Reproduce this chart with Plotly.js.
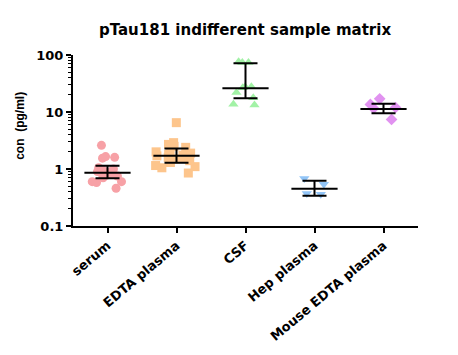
<!DOCTYPE html>
<html>
<head>
<meta charset="utf-8">
<script src="https://cdn.plot.ly/plotly-3.0.1.min.js"></script>
<style>html,body{margin:0;padding:0;background:#fff;}#chart{width:458px;height:355px;}</style>
</head>
<body>
<div id="chart"></div>
<script>
const categories = ["serum", "EDTA plasma", "CSF", "Hep plasma", "Mouse EDTA plasma"];
const serumVals = [2.6, 1.6, 1.55, 1.65, 1.05, 1.0, 0.95, 0.9, 0.85, 0.8, 0.78, 0.75, 0.6, 0.58, 0.6, 0.46, 0.7, 0.9];
const edtaVals = [6.5, 2.9, 2.7, 2.5, 2.4, 2.1, 2.0, 1.9, 1.8, 1.75, 1.7, 1.6, 1.55, 1.5, 1.4, 1.3, 1.15, 1.05, 1.1, 0.85];
const csfVals = [76, 74, 74, 27.8, 26.5, 27.8, 22, 17.8, 13.3, 13.7];
const hepVals = [0.68, 0.54, 0.37, 0.36];
const mouseVals = [17, 13.6, 11.6, 12, 7.4];
const groupMeans = [0.86, 1.71, 26, 0.45, 11.3];
const groupUpper = [1.14, 2.3, 72, 0.62, 14.0];
const groupLower = [0.69, 1.29, 17.4, 0.34, 9.5];
const yTickVals = [0.1, 1, 10, 100];
const yTickText = ["0.1", "1", "10", "100"];

const series = [serumVals, edtaVals, csfVals, hepVals, mouseVals];
const colors = ["#F7A1A6", "#FDC58C", "#A2F2A6", "#92C5F7", "#E192F0"];
const symbols = ["circle", "square", "triangle-up", "triangle-down", "diamond"];
const sizes = [9, 9, 9, 9, 9];
const spreads = [0.6, 0.8, 0.55, 0.35, 0.45];

const traces = series.map((vals, i) => ({
  type: "box",
  x: vals.map(() => categories[i]),
  y: vals,
  boxpoints: "all",
  jitter: 1,
  pointpos: 0,
  width: spreads[i],
  fillcolor: "rgba(0,0,0,0)",
  line: {color: "rgba(0,0,0,0)", width: 0},
  marker: {color: colors[i], symbol: symbols[i], size: sizes[i], line: {width: 0}},
  showlegend: false,
  hoverinfo: "y"
}));

traces.push({
  type: "scatter",
  mode: "markers",
  x: categories,
  y: groupMeans,
  marker: {symbol: "line-ew-open", size: 33, color: "#000", line: {color: "#000", width: 2}},
  error_y: {
    type: "data",
    symmetric: false,
    array: groupUpper.map((u, i) => u - groupMeans[i]),
    arrayminus: groupLower.map((l, i) => groupMeans[i] - l),
    width: 12,
    thickness: 2,
    color: "#000"
  },
  showlegend: false
});

const wide = "DejaVu Sans, Liberation Sans, Arial, sans-serif";
const narrow = "Liberation Sans, Arial, sans-serif";

const layout = {
  width: 458,
  height: 355,
  margin: {l: 73, r: 40, t: 55, b: 129},
  paper_bgcolor: "#fff",
  plot_bgcolor: "#fff",
  boxmode: "overlay",
  showlegend: false,
  font: {family: wide, color: "#000"},
  title: {
    text: "pTau181 indifferent sample matrix",
    font: {family: wide, size: 15, weight: "bold", color: "#000"},
    x: 0.535, xanchor: "center", y: 0.915, yanchor: "middle"
  },
  xaxis: {
    type: "category",
    categoryorder: "array",
    categoryarray: categories,
    range: [-0.5, 4.5],
    showline: true, linecolor: "#000", linewidth: 2,
    ticks: "outside", ticklen: 5, tickwidth: 2, tickcolor: "#000",
    showgrid: false, zeroline: false,
    tickangle: -40,
    tickfont: {family: wide, size: 13, weight: "bold", color: "#000"}
  },
  yaxis: {
    type: "log",
    range: [-1, 2],
    showline: true, linecolor: "#000", linewidth: 2,
    ticks: "outside", ticklen: 5, tickwidth: 2, tickcolor: "#000",
    tickvals: yTickVals, ticktext: yTickText,
    minor: {ticks: "outside", ticklen: 3, tickwidth: 1, tickcolor: "#000", dtick: "D1", showgrid: false},
    showgrid: false, zeroline: false,
    tickfont: {family: wide, size: 13, weight: "bold", color: "#000"}
  },
  annotations: [{
    text: "con  (pg/ml)",
    xref: "paper", yref: "paper",
    x: -0.154, y: 0.585,
    xanchor: "center", yanchor: "middle",
    textangle: -90, showarrow: false,
    font: {family: narrow, size: 12, weight: "bold", color: "#000"}
  }]
};

Plotly.newPlot("chart", traces, layout, {displayModeBar: false, staticPlot: true});
</script>
</body>
</html>
